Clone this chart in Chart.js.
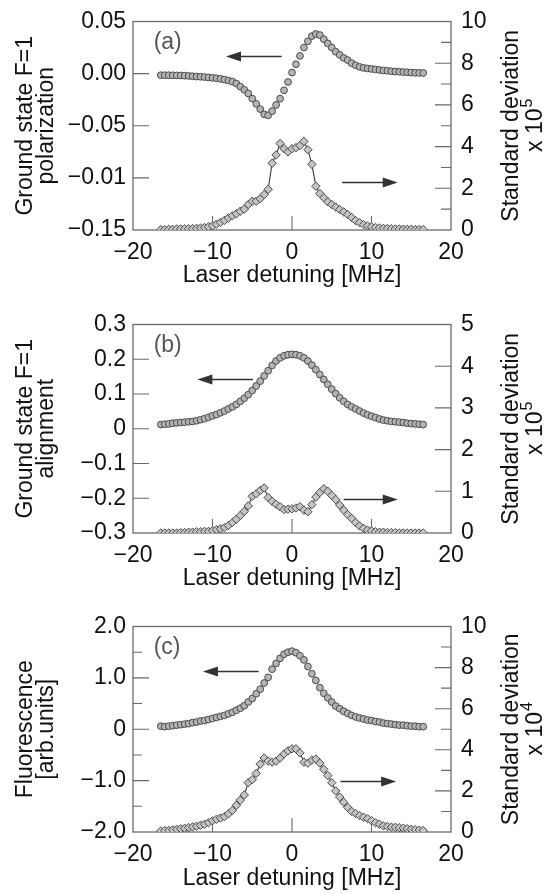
<!DOCTYPE html>
<html>
<head>
<meta charset="utf-8">
<script src="https://cdn.jsdelivr.net/npm/chart.js@4.4.1/dist/chart.umd.min.js"></script>
<style>
  html, body { margin: 0; padding: 0; background: #fff; overflow: hidden; }
  .panel { position: absolute; left: 0; width: 546px; height: 289px; }
</style>
</head>
<body>
<div class="panel" style="top:0"><canvas id="chartA"></canvas></div>
<div class="panel" style="top:303px"><canvas id="chartB"></canvas></div>
<div class="panel" style="top:605px"><canvas id="chartC"></canvas></div>
<script>
// laser detuning [MHz]
const detuning = [
  -16.5, -16, -15.5, -15, -14.5, -14, -13.5, -13, -12.5, -12, -11.5,
  -11, -10.5, -10, -9.5, -9, -8.5, -8, -7.5, -7, -6.5, -6,
  -5.5, -5, -4.5, -4, -3.5, -3, -2.5, -2, -1.5, -1, -0.5,
  0, 0.5, 1, 1.5, 2, 2.5, 3, 3.5, 4, 4.5, 5,
  5.5, 6, 6.5, 7, 7.5, 8, 8.5, 9, 9.5, 10, 10.5,
  11, 11.5, 12, 12.5, 13, 13.5, 14, 14.5, 15, 15.5, 16, 16.5
];

// (a) ground state F=1 polarization (left) and standard deviation x1e5 (right)
const polA = [
  -0.0015, -0.0015, -0.0015, -0.0016, -0.0017, -0.0018, -0.0020, -0.0022, -0.0025, -0.0028, -0.0030,
  -0.0033, -0.0037, -0.0040, -0.0045, -0.0050, -0.0058, -0.0066, -0.0077, -0.0095, -0.0125, -0.0155,
  -0.0190, -0.0240, -0.0290, -0.0340, -0.0390, -0.0400, -0.0360, -0.0300, -0.0240, -0.0160, -0.0080,
  0.0010, 0.0090, 0.0170, 0.0250, 0.0310, 0.0360, 0.0380, 0.0370, 0.0330, 0.0290, 0.0250,
  0.0210, 0.0180, 0.0150, 0.0130, 0.0100, 0.0080, 0.0065, 0.0055, 0.0050, 0.0045, 0.0040,
  0.0035, 0.0030, 0.0027, 0.0023, 0.0020, 0.0018, 0.0015, 0.0013, 0.0010, 0.0008, 0.0007, 0.0006
];
const sdA = [
  0.02, 0.02, 0.03, 0.03, 0.05, 0.05, 0.06, 0.06, 0.07, 0.08, 0.10,
  0.12, 0.15, 0.20, 0.28, 0.36, 0.46, 0.58, 0.68, 0.78, 0.90, 1.00,
  1.22, 1.38, 1.38, 1.50, 1.70, 1.95, 3.20, 3.60, 4.15, 3.90, 3.75,
  3.90, 3.95, 4.05, 4.25, 3.85, 3.15, 2.10, 1.75, 1.55, 1.35, 1.22,
  1.10, 0.98, 0.87, 0.74, 0.60, 0.45, 0.35, 0.26, 0.20, 0.15, 0.12,
  0.10, 0.08, 0.07, 0.06, 0.05, 0.05, 0.04, 0.03, 0.03, 0.02, 0.02, 0.02
];

// (b) ground state F=1 alignment (left) and standard deviation x1e5 (right)
const alignB = [
  0.012, 0.013, 0.014, 0.016, 0.017, 0.018, 0.019, 0.020, 0.021, 0.023, 0.026,
  0.029, 0.033, 0.037, 0.041, 0.046, 0.051, 0.057, 0.063, 0.070, 0.079, 0.088,
  0.098, 0.110, 0.123, 0.137, 0.152, 0.167, 0.182, 0.195, 0.204, 0.210, 0.213,
  0.214, 0.213, 0.210, 0.204, 0.195, 0.183, 0.170, 0.156, 0.142, 0.128, 0.114,
  0.101, 0.089, 0.079, 0.070, 0.063, 0.057, 0.051, 0.045, 0.040, 0.036, 0.032,
  0.028, 0.025, 0.023, 0.021, 0.020, 0.019, 0.018, 0.016, 0.015, 0.014, 0.013, 0.012
];
const sdB = [
  0, 0, 0, 0, 0, 0.01, 0.01, 0.02, 0.02, 0.03, 0.03,
  0.04, 0.04, 0.06, 0.08, 0.10, 0.13, 0.18, 0.25, 0.33, 0.42, 0.52,
  0.65, 0.88, 0.94, 1.02, 1.08, 0.85, 0.76, 0.69, 0.63, 0.56, 0.57,
  0.58, 0.60, 0.63, 0.55, 0.51, 0.68, 0.86, 0.97, 1.06, 1.00, 0.90,
  0.80, 0.67, 0.55, 0.44, 0.35, 0.25, 0.17, 0.11, 0.07, 0.05, 0.03,
  0.02, 0.02, 0.01, 0.01, 0.01, 0, 0, 0, 0, 0, 0, 0
];

// (c) fluorescence [arb. units] (left) and standard deviation x1e4 (right)
const fluorC = [
  0.06, 0.05, 0.06, 0.07, 0.08, 0.09, 0.10, 0.11, 0.13, 0.14, 0.16,
  0.17, 0.19, 0.21, 0.23, 0.25, 0.27, 0.30, 0.33, 0.37, 0.41, 0.46,
  0.53, 0.60, 0.69, 0.78, 0.90, 1.01, 1.17, 1.28, 1.38, 1.46, 1.50,
  1.52, 1.49, 1.43, 1.35, 1.22, 1.08, 0.95, 0.81, 0.70, 0.61, 0.53,
  0.45, 0.40, 0.35, 0.31, 0.27, 0.24, 0.22, 0.20, 0.18, 0.17, 0.15,
  0.14, 0.12, 0.11, 0.10, 0.09, 0.08, 0.08, 0.07, 0.06, 0.06, 0.05, 0.05
];
const sdC = [
  0.05, 0.07, 0.08, 0.10, 0.13, 0.16, 0.18, 0.22, 0.25, 0.28, 0.33,
  0.38, 0.45, 0.55, 0.62, 0.68, 0.75, 0.88, 1.05, 1.30, 1.55, 1.80,
  2.40, 2.55, 2.85, 3.30, 3.60, 3.45, 3.40, 3.45, 3.60, 3.80, 3.95,
  4.05, 4.05, 3.85, 3.40, 3.35, 3.50, 3.55, 3.35, 3.05, 2.75, 2.40,
  2.00, 1.70, 1.45, 1.20, 1.00, 0.90, 0.80, 0.72, 0.65, 0.55, 0.45,
  0.38, 0.30, 0.27, 0.24, 0.23, 0.21, 0.19, 0.16, 0.13, 0.11, 0.09, 0.07
];

// axis ticks
const xTickVals   = [-20, -10, 0, 10, 20];
const xTickLabels = ['−20', '−10', '0', '10', '20'];

const leftTickValsA   = [-0.15, -0.10, -0.05, 0, 0.05];
const leftTickLabelsA = ['−0.15', '−0.01', '−0.05', '0.00', '0.05'];
const leftTickValsB   = [-0.3, -0.2, -0.1, 0, 0.1, 0.2, 0.3];
const leftTickLabelsB = ['−0.3', '−0.2', '−0.1', '0', '0.1', '0.2', '0.3'];
const leftTickValsC   = [-2, -1.5, -1, -0.5, 0, 0.5, 1, 1.5, 2];
const leftTickLabelsC = ['−2.0', '', '−1.0', '', '0', '', '1.0', '', '2.0'];

const rightTickVals10   = [0, 1, 2, 3, 4, 5, 6, 7, 8, 9, 10];
const rightTickLabels10 = ['0', '', '2', '', '4', '', '6', '', '8', '', '10'];
const rightTickValsB    = [0, 1, 2, 3, 4, 5];
const rightTickLabelsB  = ['0', '1', '2', '3', '4', '5'];

const FONT = "'Liberation Sans', Arial, Helvetica, sans-serif";
const INK = '#111';
const FRAME = '#6a6a6a';
const FS = 23;

// frame box + inward tick marks
const frameTicks = {
  id: 'frameTicks',
  beforeDatasetsDraw(chart) {
    const { ctx, chartArea: a, scales } = chart;
    ctx.save();
    ctx.strokeStyle = FRAME;
    ctx.lineWidth = 1.3;
    ctx.strokeRect(a.left, a.top, a.right - a.left, a.bottom - a.top);
    ctx.lineWidth = 1.1;
    ctx.beginPath();
    scales.x.ticks.forEach(t => {
      const p = scales.x.getPixelForValue(t.value);
      if (Math.abs(p - a.left) < 1 || Math.abs(p - a.right) < 1) return;
      ctx.moveTo(p, a.bottom); ctx.lineTo(p, a.bottom - 14);
    });
    scales.yL.ticks.forEach(t => {
      const p = scales.yL.getPixelForValue(t.value);
      if (Math.abs(p - a.top) < 1 || Math.abs(p - a.bottom) < 1) return;
      const len = t.label === '' ? 9 : 16;
      ctx.moveTo(a.left, p); ctx.lineTo(a.left + len, p);
    });
    scales.yR.ticks.forEach(t => {
      const p = scales.yR.getPixelForValue(t.value);
      if (Math.abs(p - a.top) < 1 || Math.abs(p - a.bottom) < 1) return;
      const len = t.label === '' ? 10 : 16;
      ctx.moveTo(a.right, p); ctx.lineTo(a.right - len, p);
    });
    ctx.stroke();
    ctx.restore();
  }
};

// panel letter and the two direction arrows
const marks = {
  id: 'marks',
  afterDatasetsDraw(chart, args, o) {
    const { ctx, scales } = chart;
    const x = scales.x;
    ctx.save();
    ctx.fillStyle = '#555';
    ctx.font = `${FS}px ${FONT}`;
    ctx.textAlign = 'left';
    ctx.textBaseline = 'middle';
    ctx.fillText(o.letter, x.getPixelForValue(o.letterAt[0]), scales.yL.getPixelForValue(o.letterAt[1]));
    o.arrows.forEach(ar => {
      const y  = Math.round(scales[ar.axis].getPixelForValue(ar.y)) + 0.5;
      const x1 = x.getPixelForValue(ar.from);
      const x2 = x.getPixelForValue(ar.to);
      const dir = Math.sign(x2 - x1);
      ctx.strokeStyle = '#333';
      ctx.fillStyle = '#333';
      ctx.lineWidth = 1.4;
      ctx.beginPath(); ctx.moveTo(x1, y); ctx.lineTo(x2 - dir * 10, y); ctx.stroke();
      ctx.beginPath();
      ctx.moveTo(x2, y);
      ctx.lineTo(x2 - dir * 15, y - 5);
      ctx.lineTo(x2 - dir * 15, y + 5);
      ctx.closePath();
      ctx.fill();
    });
    ctx.restore();
  }
};

// right axis title, rotated to read bottom-up like the left one
const rightTitle = {
  id: 'rightTitle',
  afterDraw(chart, args, o) {
    const { ctx, chartArea: a } = chart;
    ctx.save();
    ctx.fillStyle = INK;
    ctx.textBaseline = 'middle';
    ctx.textAlign = 'center';
    ctx.translate(a.right + o.offset, (a.top + a.bottom) / 2);
    ctx.rotate(-Math.PI / 2);
    ctx.font = `${FS}px ${FONT}`;
    ctx.fillText(o.line1, 0, 0);
    ctx.translate(0, o.gap);
    const wb = ctx.measureText(o.base).width;
    ctx.font = `16px ${FONT}`;
    const ws = ctx.measureText(o.exp).width;
    const x0 = -(wb + ws) / 2;
    ctx.textAlign = 'left';
    ctx.font = `${FS}px ${FONT}`;
    ctx.fillText(o.base, x0, 0);
    ctx.font = `16px ${FONT}`;
    ctx.fillText(o.exp, x0 + wb + 1, -8);
    ctx.restore();
  }
};

const tickFont = { family: FONT, size: FS, lineHeight: 1 };

function makePanel(id, p) {
  const fixTicks = vals => s => { s.ticks = vals.map(v => ({ value: v })); };
  new Chart(document.getElementById(id), {
    type: 'scatter',
    data: {
      datasets: [
        {
          label: 'std', yAxisID: 'yR',
          data: detuning.map((d, i) => ({ x: d, y: p.right[i] })),
          showLine: true, borderColor: '#3a3a3a', borderWidth: 1.1,
          pointStyle: 'rectRot', pointRadius: 4.2,
          pointBackgroundColor: '#c4c4c4', pointBorderColor: '#4a4a4a', pointBorderWidth: 1,
          order: 2
        },
        {
          label: 'signal', yAxisID: 'yL',
          data: detuning.map((d, i) => ({ x: d, y: p.left[i] })),
          showLine: false,
          pointStyle: 'circle', pointRadius: 3.4,
          pointBackgroundColor: '#b4b4b4', pointBorderColor: '#4a4a4a', pointBorderWidth: 1,
          order: 1
        }
      ]
    },
    options: {
      responsive: true,
      maintainAspectRatio: false,
      animation: false,
      events: [],
      layout: { padding: { top: 14, left: 0, right: 0, bottom: 0 } },
      plugins: {
        legend: { display: false },
        tooltip: { enabled: false },
        marks: p.marks,
        rightTitle: p.rightTitle
      },
      scales: {
        x: {
          type: 'linear', position: 'bottom', min: -20, max: 20,
          afterBuildTicks: fixTicks(xTickVals),
          afterFit: s => { s.height = p.xAxisHeight; },
          ticks: { callback: (v, i) => xTickLabels[i], autoSkip: false, maxRotation: 0, padding: 11, font: tickFont, color: INK },
          grid: { display: false, drawTicks: false },
          border: { display: false },
          title: { display: true, text: 'Laser detuning [MHz]', color: INK, font: { family: FONT, size: FS, lineHeight: 1 }, padding: { top: 0, bottom: p.xTitlePad } }
        },
        yL: {
          type: 'linear', position: 'left', min: p.leftMin, max: p.leftMax,
          afterBuildTicks: fixTicks(p.leftVals),
          afterFit: s => { s.width = 133; },
          ticks: { callback: (v, i) => p.leftLabels[i], autoSkip: false, padding: 7, font: tickFont, color: INK },
          grid: { display: false, drawTicks: false },
          border: { display: false },
          title: { display: true, text: p.leftTitle, color: INK, font: { family: FONT, size: FS, lineHeight: 0.92 }, padding: { top: 15, bottom: 0 } }
        },
        yR: {
          type: 'linear', position: 'right', min: 0, max: p.rightMax,
          afterBuildTicks: fixTicks(p.rightVals),
          afterFit: s => { s.width = 95; },
          ticks: { callback: (v, i) => p.rightLabels[i], autoSkip: false, padding: 10, font: tickFont, color: INK },
          grid: { display: false, drawTicks: false },
          border: { display: false }
        }
      }
    },
    plugins: [frameTicks, marks, rightTitle]
  });
}

makePanel('chartA', {
  left: polA, right: sdA, xAxisHeight: 59, xTitlePad: 2,
  leftMin: -0.15, leftMax: 0.05, leftVals: leftTickValsA, leftLabels: leftTickLabelsA,
  rightMax: 10, rightVals: rightTickVals10, rightLabels: rightTickLabels10,
  leftTitle: ['Ground state F=1', 'polarization'],
  rightTitle: { offset: 61, gap: 24, line1: 'Standard deviation', base: 'x 10', exp: '5' },
  marks: {
    letter: '(a)', letterAt: [-17.4, 0.0297],
    arrows: [
      { axis: 'yL', y: 0.0165, from: -1.3, to: -8.3 },
      { axis: 'yR', y: 2.3, from: 6.3, to: 13.3 }
    ]
  }
});

makePanel('chartB', {
  left: alignB, right: sdB, xAxisHeight: 59, xTitlePad: 2,
  leftMin: -0.3, leftMax: 0.3, leftVals: leftTickValsB, leftLabels: leftTickLabelsB,
  rightMax: 5, rightVals: rightTickValsB, rightLabels: rightTickLabelsB,
  leftTitle: ['Ground state F=1', 'alignment'],
  rightTitle: { offset: 61, gap: 24, line1: 'Standard deviation', base: 'x 10', exp: '5' },
  marks: {
    letter: '(b)', letterAt: [-17.4, 0.239],
    arrows: [
      { axis: 'yL', y: 0.144, from: -4.9, to: -11.9 },
      { axis: 'yR', y: 0.81, from: 6.5, to: 13.3 }
    ]
  }
});

makePanel('chartC', {
  left: fluorC, right: sdC, xAxisHeight: 62, xTitlePad: 4,
  leftMin: -2, leftMax: 2, leftVals: leftTickValsC, leftLabels: leftTickLabelsC,
  rightMax: 10, rightVals: rightTickVals10, rightLabels: rightTickLabels10,
  leftTitle: ['Fluorescence', '[arb.units]'],
  rightTitle: { offset: 61, gap: 24, line1: 'Standard deviation', base: 'x 10', exp: '4' },
  marks: {
    letter: '(c)', letterAt: [-17.4, 1.59],
    arrows: [
      { axis: 'yL', y: 1.13, from: -4.2, to: -11.2 },
      { axis: 'yR', y: 2.5, from: 6.1, to: 13.1 }
    ]
  }
});
</script>
</body>
</html>
